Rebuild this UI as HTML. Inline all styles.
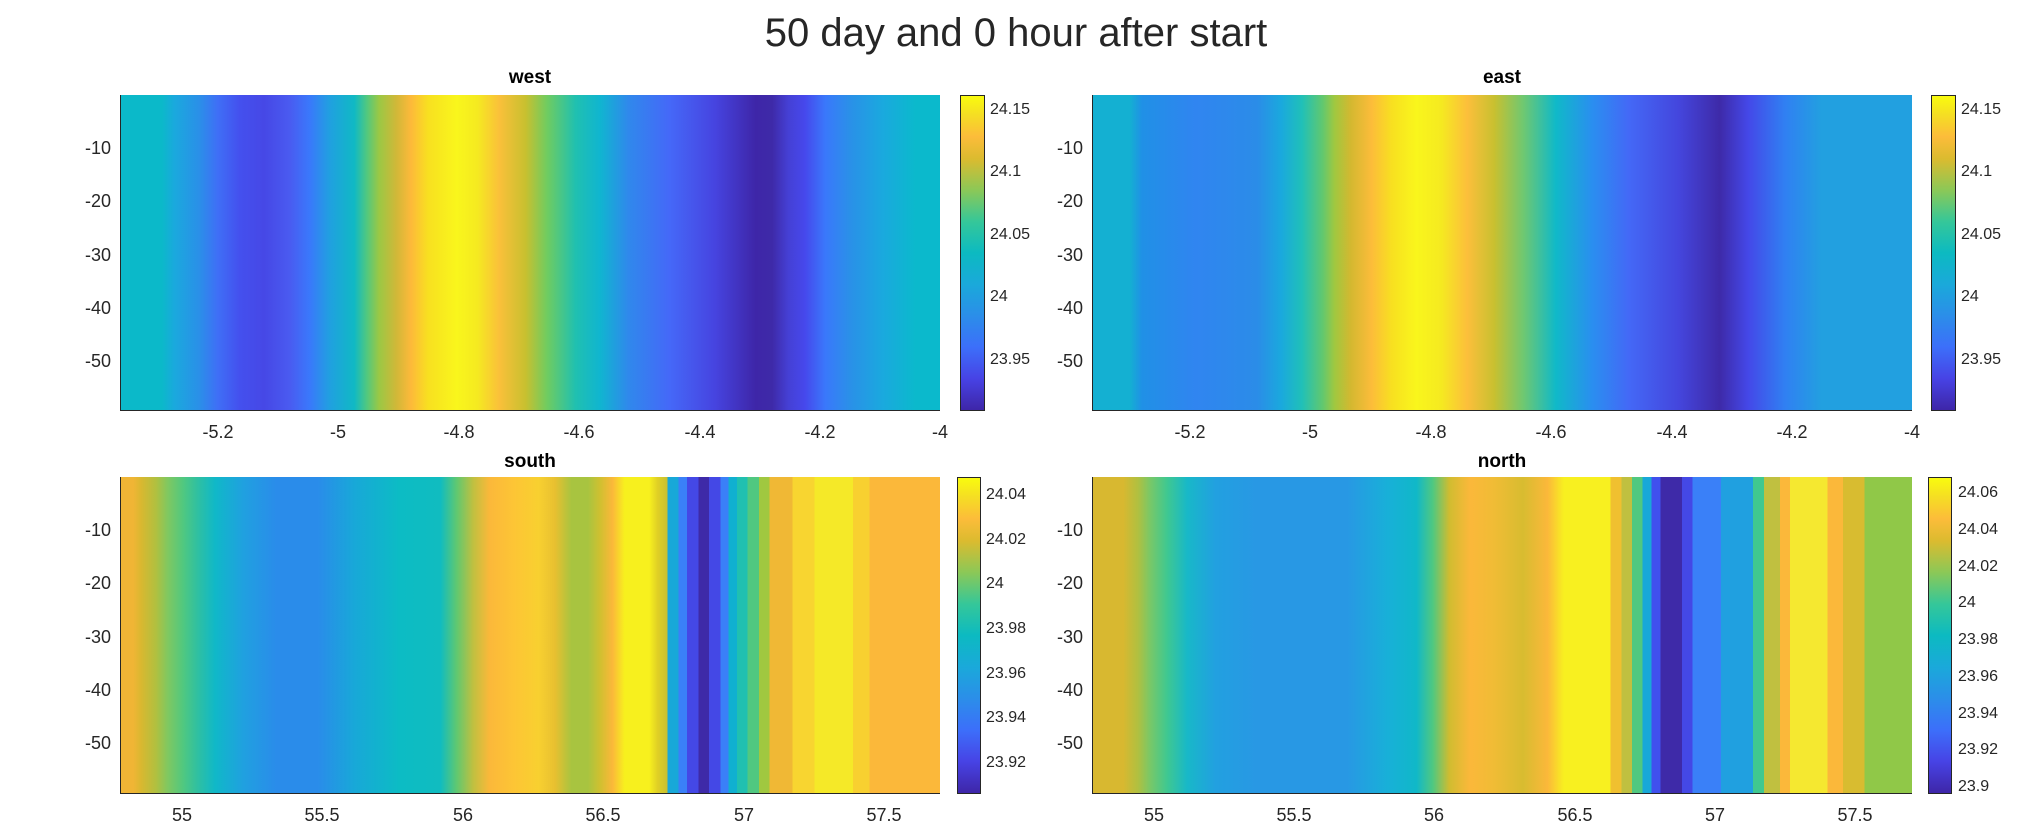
<!DOCTYPE html>
<html><head><meta charset="utf-8"><style>
body{margin:0;width:2032px;height:840px;background:#fff;position:relative;overflow:hidden;font-family:"Liberation Sans",Arial,sans-serif;color:#262626}
.p{position:absolute;border-left:1px solid #262626;border-bottom:1px solid #262626;box-sizing:border-box}
.cb{position:absolute;border:1px solid #262626;box-sizing:border-box;background:linear-gradient(to top,#3e26a8 0%,#4743e5 10%,#3c6ffa 20%,#2b8ee9 30%,#1aa9da 40%,#0cbac1 50%,#35c799 60%,#8bc857 70%,#dbbb2f 80%,#fcbc3a 87%,#f5de23 94%,#f9fb0e 100%)}
.x{position:absolute;font-size:18px;line-height:18px;transform:translateX(-50%);white-space:nowrap}
.y{position:absolute;font-size:18px;line-height:18px;text-align:right;width:50px;white-space:nowrap}
.c{position:absolute;font-size:16px;line-height:16px;white-space:nowrap}
.t{position:absolute;font-size:19px;font-weight:bold;line-height:20px;transform:translateX(-50%);color:#000}
</style></head><body>
<div style="position:absolute;left:0;width:2032px;top:10px;text-align:center;font-size:40px;line-height:46px;">50 day and 0 hour after start</div>

<!-- west -->
<div class="t" style="left:530px;top:68px">west</div>
<div class="p" style="left:120px;top:95px;width:820px;height:316px;background:linear-gradient(to right,#0bb9c9 0%,#0bb9c9 5%,#1aa9dd 6.5%,#2a90e8 9.5%,#3f6ff6 11.8%,#4450ee 14.5%,#4648e6 17.5%,#4a5af0 20.5%,#3a78fb 23%,#20a0e0 25.5%,#10b9c4 28.5%,#50c880 30%,#9ac845 31.5%,#d0b838 33.6%,#fdb93a 35.4%,#f8e020 37.5%,#f9f61c 41%,#f5ea20 43.5%,#fac03a 46.2%,#c8c02f 49.4%,#70cc60 52%,#20c0b0 55.5%,#10b5d0 58.5%,#3088ec 62%,#4568f8 67%,#4644e0 72.5%,#3e26a8 77.5%,#3e2aa8 79.5%,#4540d5 81.5%,#4648ec 83.5%,#3a78fb 86%,#2a90e8 89%,#1aa9de 93%,#0bb9cc 97%,#0bb9cc 100%)"></div>
<div class="cb" style="left:960px;top:95px;width:25px;height:316px"></div>
<div class="c" style="left:990px;top:102px">24.15</div>
<div class="c" style="left:990px;top:164px">24.1</div>
<div class="c" style="left:990px;top:227px">24.05</div>
<div class="c" style="left:990px;top:289px">24</div>
<div class="c" style="left:990px;top:352px">23.95</div>
<div class="y" style="left:61px;top:139px">-10</div>
<div class="y" style="left:61px;top:192px">-20</div>
<div class="y" style="left:61px;top:246px">-30</div>
<div class="y" style="left:61px;top:299px">-40</div>
<div class="y" style="left:61px;top:352px">-50</div>
<div class="x" style="left:218px;top:423px">-5.2</div>
<div class="x" style="left:338px;top:423px">-5</div>
<div class="x" style="left:459px;top:423px">-4.8</div>
<div class="x" style="left:579px;top:423px">-4.6</div>
<div class="x" style="left:700px;top:423px">-4.4</div>
<div class="x" style="left:820px;top:423px">-4.2</div>
<div class="x" style="left:940px;top:423px">-4</div>

<!-- east -->
<div class="t" style="left:1502px;top:68px">east</div>
<div class="p" style="left:1092px;top:95px;width:820px;height:316px;background:linear-gradient(to right,#14b0d2 0%,#14b0d2 4.5%,#2090e6 6%,#3085f0 12.5%,#2b8ce8 20%,#1aa9dd 23%,#20c0b8 25.5%,#60c870 28%,#a0c840 29.5%,#d4b830 31.5%,#fcbc3a 34%,#f8e020 36.5%,#f9f61c 39.5%,#f5ea20 42.5%,#fcbf3b 45.7%,#c8c030 49%,#70c870 52.5%,#10b9c8 56.5%,#2a8ef0 61%,#4468f6 65.5%,#4446dd 71.5%,#3e2aa8 76.5%,#4448e8 80%,#3080f2 84.5%,#22a0e0 89%,#22a0e0 100%)"></div>
<div class="cb" style="left:1931px;top:95px;width:25px;height:316px"></div>
<div class="c" style="left:1961px;top:102px">24.15</div>
<div class="c" style="left:1961px;top:164px">24.1</div>
<div class="c" style="left:1961px;top:227px">24.05</div>
<div class="c" style="left:1961px;top:289px">24</div>
<div class="c" style="left:1961px;top:352px">23.95</div>
<div class="y" style="left:1033px;top:139px">-10</div>
<div class="y" style="left:1033px;top:192px">-20</div>
<div class="y" style="left:1033px;top:246px">-30</div>
<div class="y" style="left:1033px;top:299px">-40</div>
<div class="y" style="left:1033px;top:352px">-50</div>
<div class="x" style="left:1190px;top:423px">-5.2</div>
<div class="x" style="left:1310px;top:423px">-5</div>
<div class="x" style="left:1431px;top:423px">-4.8</div>
<div class="x" style="left:1551px;top:423px">-4.6</div>
<div class="x" style="left:1672px;top:423px">-4.4</div>
<div class="x" style="left:1792px;top:423px">-4.2</div>
<div class="x" style="left:1912px;top:423px">-4</div>

<!-- south -->
<div class="t" style="left:530px;top:452px">south</div>
<div class="p" style="left:120px;top:477px;width:820px;height:317px;background:linear-gradient(to right,#f0b535 0%,#f0b535 1.5%,#d8b830 2.5%,#b0c040 4.3%,#80c860 5.7%,#50c880 7.6%,#30c0a0 9.3%,#10b8c8 11.5%,#20a0e0 15%,#2a8cea 19%,#2a8cea 24%,#18a8d8 28.5%,#0cbcc4 34%,#10bcc0 39%,#60c870 41%,#c0c040 43%,#fbb83a 45%,#fdc535 48%,#f8d030 51%,#e8c030 53%,#a8c440 55%,#a8c440 57%,#d0c030 58.5%,#fab83a 60%,#f7f01e 61.5%,#f7f01e 64.5%,#e0d025 65.5%,#c8c030 66.7%,#18a8d8 66.7%,#18a8d8 68.1%,#3a80f8 68.1%,#3a80f8 69.1%,#4448e6 69.1%,#4448e6 70.5%,#3e2aa8 70.5%,#3e2aa8 71.8%,#4448e6 71.8%,#4448e6 73.2%,#3a80f8 73.2%,#3a80f8 74.2%,#10b0d0 74.2%,#10b0d0 75.2%,#20c0b0 75.2%,#20c0b0 76.5%,#50c880 76.5%,#50c880 77.9%,#a0c840 77.9%,#a0c840 79.2%,#f0b835 79.2%,#f0b835 82%,#f8d530 82%,#f8d530 84.7%,#f5e928 84.7%,#f5e928 89.4%,#f8d030 89.4%,#f8d030 91.4%,#fbb83a 91.4%,#fbb83a 100%)"></div>
<div class="cb" style="left:957px;top:477px;width:24px;height:317px"></div>
<div class="c" style="left:986px;top:487px">24.04</div>
<div class="c" style="left:986px;top:532px">24.02</div>
<div class="c" style="left:986px;top:576px">24</div>
<div class="c" style="left:986px;top:621px">23.98</div>
<div class="c" style="left:986px;top:666px">23.96</div>
<div class="c" style="left:986px;top:710px">23.94</div>
<div class="c" style="left:986px;top:755px">23.92</div>
<div class="y" style="left:61px;top:521px">-10</div>
<div class="y" style="left:61px;top:574px">-20</div>
<div class="y" style="left:61px;top:628px">-30</div>
<div class="y" style="left:61px;top:681px">-40</div>
<div class="y" style="left:61px;top:734px">-50</div>
<div class="x" style="left:182px;top:806px">55</div>
<div class="x" style="left:322px;top:806px">55.5</div>
<div class="x" style="left:463px;top:806px">56</div>
<div class="x" style="left:603px;top:806px">56.5</div>
<div class="x" style="left:744px;top:806px">57</div>
<div class="x" style="left:884px;top:806px">57.5</div>

<!-- north -->
<div class="t" style="left:1502px;top:452px">north</div>
<div class="p" style="left:1092px;top:477px;width:820px;height:317px;background:linear-gradient(to right,#d8b830 0%,#d8b830 3.7%,#b0c040 5.5%,#78c868 7%,#40c890 9%,#18b8c8 11.5%,#22a0e0 15%,#2898e4 20%,#2898e4 31%,#18b0d8 36%,#10b8c8 39.5%,#50c880 41.5%,#d0bc30 43.5%,#fbb83a 46%,#f0bc35 49%,#d8bc30 52.5%,#fbb83a 55.5%,#f8f020 57.5%,#f8f020 63.2%,#f0c030 63.2%,#f0c030 64.5%,#c0c040 64.5%,#c0c040 65.8%,#50c880 65.8%,#50c880 67.1%,#18a8d8 67.1%,#18a8d8 68.2%,#4050ee 68.2%,#4050ee 69.3%,#3e2aa8 69.3%,#3e2aa8 71.9%,#4448e6 71.9%,#4448e6 73.2%,#3a80f8 73.2%,#3a80f8 76.7%,#20a0e0 76.7%,#20a0e0 80.6%,#40c890 80.6%,#40c890 81.9%,#c0c040 81.9%,#c0c040 83.9%,#fbb83a 83.9%,#fbb83a 85.1%,#f5e830 85.1%,#f5e830 89.7%,#fbb83a 89.7%,#fbb83a 91.6%,#d8bc30 91.6%,#d8bc30 94.2%,#90c848 94.2%,#90c848 100%)"></div>
<div class="cb" style="left:1928px;top:477px;width:24px;height:317px"></div>
<div class="c" style="left:1958px;top:485px">24.06</div>
<div class="c" style="left:1958px;top:522px">24.04</div>
<div class="c" style="left:1958px;top:559px">24.02</div>
<div class="c" style="left:1958px;top:595px">24</div>
<div class="c" style="left:1958px;top:632px">23.98</div>
<div class="c" style="left:1958px;top:669px">23.96</div>
<div class="c" style="left:1958px;top:706px">23.94</div>
<div class="c" style="left:1958px;top:742px">23.92</div>
<div class="c" style="left:1958px;top:779px">23.9</div>
<div class="y" style="left:1033px;top:521px">-10</div>
<div class="y" style="left:1033px;top:574px">-20</div>
<div class="y" style="left:1033px;top:628px">-30</div>
<div class="y" style="left:1033px;top:681px">-40</div>
<div class="y" style="left:1033px;top:734px">-50</div>
<div class="x" style="left:1154px;top:806px">55</div>
<div class="x" style="left:1294px;top:806px">55.5</div>
<div class="x" style="left:1434px;top:806px">56</div>
<div class="x" style="left:1575px;top:806px">56.5</div>
<div class="x" style="left:1715px;top:806px">57</div>
<div class="x" style="left:1855px;top:806px">57.5</div>
</body></html>
